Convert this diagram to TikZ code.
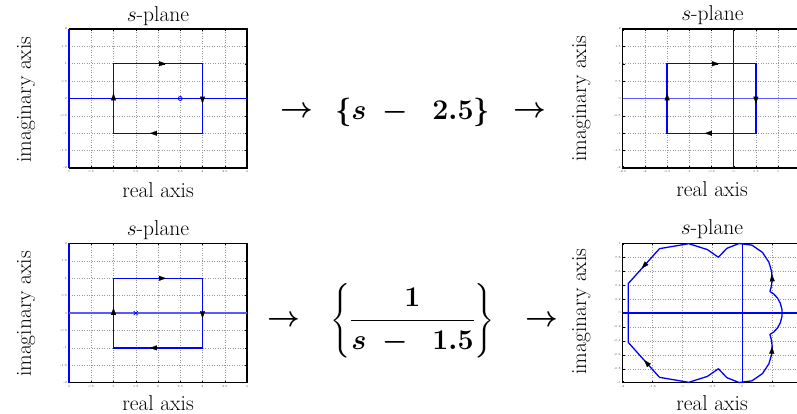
\RequirePackage{fix-cm}
\documentclass[tikz,border=0pt]{standalone}
\usepackage{amsmath}
\usetikzlibrary{arrows.meta}
\begin{document}
\begin{tikzpicture}[x=1pt,y=1pt,
 lbl/.style={font=\fontsize{21.5}{25}\selectfont, inner sep=0pt},
 mth/.style={font=\fontsize{28.5}{34}\selectfont\boldmath, inner sep=0pt},
 gridl/.style={black!40, dotted, line width=0.5pt},
 frm/.style={black, line width=1.3pt},
 bl/.style={draw=blue, line width=1.3pt},
 blax/.style={draw=blue!65, line width=1.8pt},
 tiptri/.style={-{Triangle[length=7pt,width=5pt]}, draw=black, fill=black, line width=0.2pt},
 tk/.style={font=\fontsize{3}{3}\selectfont, inner sep=0.6pt, text=black!75},
 tkm/.style={black, line width=0.4pt},
]
\useasboundingbox (0,0) rectangle (797,414);

% ---------- top-left plot ----------
\begin{scope}[shift={(69,315.5)}, x=44.5pt, y=34.75pt]
 \foreach \gx in {0.5,1.5,2,2.5,3.5} \draw[gridl] (\gx,-2) -- (\gx,2);
 \foreach \gy in {-1.5,-0.5,0.5,1.5} \draw[gridl] (0,\gy) -- (4,\gy);
 \draw[gridl] (1,-2) -- (1,-1) (1,1) -- (1,2) (3,-2) -- (3,-1) (3,1) -- (3,2);
 \draw[gridl] (0,-1) -- (1,-1) (3,-1) -- (4,-1) (0,1) -- (1,1) (3,1) -- (4,1);
 \foreach \gx/\lab [count=\i] in {0/0,0.5/0.5,1/1,1.5/1.5,2/2,2.5/2.5,3/3,3.5/3.5,4/4} {
   \node[tk, anchor=north] (ax\i) at (\gx,-2.05) {\lab};
   \draw[tkm] (\gx,-2) -- ++(0,2pt); \draw[tkm] (\gx,2) -- ++(0,-2pt);}
 \foreach \gy/\lab [count=\i] in {-2/-2,-1.5/-1.5,-1/-1,-0.5/-0.5,0/0,0.5/0.5,1/1,1.5/1.5,2/2} {
   \node[tk, anchor=east] (ay\i) at (-0.03,\gy) {\lab};
   \draw[tkm] (4,\gy) -- ++(-2pt,0);}
 \draw[frm] (0,2) -- (4,2) -- (4,-2) -- (0,-2);
 \draw[bl] (0,-2) -- (0,2);
 \draw[bl] (0,0) -- (4,0);
 \draw[bl] (1,-1) rectangle (3,1);
 \draw[bl, line width=0.8pt] (2.5,0) circle[radius=2pt];
 \draw[tiptri] (2.16,1) -- (2.18,1);
 \draw[tiptri] (3,-0.13) -- (3,-0.15);
 \draw[tiptri] (1.84,-1) -- (1.82,-1);
 \draw[tiptri] (1,0.13) -- (1,0.15);
\end{scope}
\node[lbl, anchor=base] (t1) at (158,392.5) {$s$-plane};
\node[lbl, anchor=base] (r1) at (158,216) {real axis};
\node[lbl, anchor=base, rotate=90] (i1) at (31,314.5) {imaginary axis};

% ---------- top-right plot ----------
\begin{scope}[shift={(733.7,315.5)}, x=44.4pt, y=34.75pt]
 \foreach \gx in {-2,-1,-0.5,1} \draw[gridl] (\gx,-2) -- (\gx,2);
 \foreach \gy in {-1.5,-0.5,0.5,1.5} \draw[gridl] (-2.5,\gy) -- (1.6,\gy);
 \draw[gridl] (-1.5,-2) -- (-1.5,-1) (-1.5,1) -- (-1.5,2) (0.5,-2) -- (0.5,-1) (0.5,1) -- (0.5,2);
 \draw[gridl] (-2.5,-1) -- (-1.5,-1) (0.5,-1) -- (1.6,-1) (-2.5,1) -- (-1.5,1) (0.5,1) -- (1.6,1);
 \foreach \gx/\lab [count=\i] in {-2.5/-2.5,-2/-2,-1.5/-1.5,-1/-1,-0.5/-0.5,0/0,0.5/0.5,1/1} {
   \node[tk, anchor=north] (bx\i) at (\gx,-2.05) {\lab};
   \draw[tkm] (\gx,-2) -- ++(0,2pt); \draw[tkm] (\gx,2) -- ++(0,-2pt);}
 \foreach \gy/\lab [count=\i] in {-2/-2,-1.5/-1.5,-1/-1,-0.5/-0.5,0/0,0.5/0.5,1/1,1.5/1.5,2/2} {
   \node[tk, anchor=east] (by\i) at (-2.53,\gy) {\lab};
   \draw[tkm] (-2.5,\gy) -- ++(2pt,0);}
 \draw[frm] (1.7,2) -- (-2.5,2) -- (-2.5,-2) -- (1.7,-2);
 \draw[blax] (-2.5,0) -- (1.7,0);
 \draw[bl] (0,-2) -- (0,2);
 \draw[bl] (-1.5,-1) rectangle (0.5,1);
 \draw[tiptri] (-0.35,1) -- (-0.33,1);
 \draw[tiptri] (0.5,-0.13) -- (0.5,-0.15);
 \draw[tiptri] (-0.63,-1) -- (-0.65,-1);
 \draw[tiptri] (-1.5,0.13) -- (-1.5,0.15);
\end{scope}
\node[lbl, anchor=base] (t2) at (712.5,393) {$s$-plane};
\node[lbl, anchor=base] (r2) at (712,217) {real axis};
\node[lbl, anchor=base, rotate=90] (i2) at (586,315.5) {imaginary axis};

% ---------- bottom-left plot ----------
\begin{scope}[shift={(69,100.9)}, x=44.5pt, y=34.8pt]
 \foreach \gx in {0.5,1.5,2,2.5,3.5} \draw[gridl] (\gx,-2) -- (\gx,2);
 \foreach \gy in {-1.5,-0.5,0.5,1.5} \draw[gridl] (0,\gy) -- (4,\gy);
 \draw[gridl] (1,-2) -- (1,-1) (1,1) -- (1,2) (3,-2) -- (3,-1) (3,1) -- (3,2);
 \draw[gridl] (0,-1) -- (1,-1) (3,-1) -- (4,-1) (0,1) -- (1,1) (3,1) -- (4,1);
 \foreach \gx/\lab [count=\i] in {0/0,0.5/0.5,1/1,1.5/1.5,2/2,2.5/2.5,3/3,3.5/3.5,4/4} {
   \node[tk, anchor=north] (cx\i) at (\gx,-2.05) {\lab};
   \draw[tkm] (\gx,-2) -- ++(0,2pt); \draw[tkm] (\gx,2) -- ++(0,-2pt);}
 \foreach \gy/\lab [count=\i] in {-2/-2,-1.5/-1.5,-1/-1,-0.5/-0.5,0/0,0.5/0.5,1/1,1.5/1.5,2/2} {
   \node[tk, anchor=east] (cy\i) at (-0.03,\gy) {\lab};
   \draw[tkm] (4,\gy) -- ++(-2pt,0);}
 \draw[frm] (0,2) -- (4,2) -- (4,-2) -- (0,-2);
 \draw[bl] (0,-2) -- (0,2);
 \draw[blax] (0,0) -- (4,0);
 \draw[bl] (1,-1) rectangle (3,1);
 \draw[bl, line width=0.8pt] (1.5,0) ++(-2pt,-2pt) -- ++(4pt,4pt) ++(-4pt,0) -- ++(4pt,-4pt);
 \draw[tiptri] (2.16,1) -- (2.18,1);
 \draw[tiptri] (3,-0.13) -- (3,-0.15);
 \draw[tiptri] (1.84,-1) -- (1.82,-1);
 \draw[tiptri] (1,0.13) -- (1,0.15);
\end{scope}
\node[lbl, anchor=base] (t3) at (158,178) {$s$-plane};
\node[lbl, anchor=base] (r3) at (158,3.5) {real axis};
\node[lbl, anchor=base, rotate=90] (i3) at (31,100) {imaginary axis};

% ---------- bottom-right plot ----------
\begin{scope}[shift={(742.3,101)}, x=59.8pt, y=69.7pt]
 \foreach \gx in {-1.5,-1,-0.5,0.5} \draw[gridl] (\gx,-1) -- (\gx,1);
 \foreach \gy in {-0.8,-0.6,-0.4,-0.2,0.2,0.4,0.6,0.8} \draw[gridl] (-2,\gy) -- (1,\gy);
 \foreach \gx/\lab [count=\i] in {-2/-2,-1.5/-1.5,-1/-1,-0.5/-0.5,0/0,0.5/0.5} {
   \node[tk, anchor=north] (dx\i) at (\gx,-1.025) {\lab};
   \draw[tkm] (\gx,-1) -- ++(0,2pt); \draw[tkm] (\gx,1) -- ++(0,-2pt);}
 \foreach \gy/\lab [count=\i] in {-1/-1,-0.8/-0.8,-0.6/-0.6,-0.4/-0.4,-0.2/-0.2,0/0,0.2/0.2,0.4/0.4,0.6/0.6,0.8/0.8,1/1} {
   \node[tk, anchor=east] (dy\i) at (-2.02,\gy) {\lab};
   \draw[tkm] (-2,\gy) -- ++(2pt,0);}
 \draw[frm] (1,1) -- (-2,1);
 \draw[frm] (-2,-1) -- (1,-1);
 \draw[black, line width=0.8pt] (-2,-1) -- (-2,1);
 \draw[bl] (-2,0) -- (1,0);
 \draw[bl] (0,-1) -- (0,1);
 \draw[bl, line join=round] (0.4615,-0.3077) -- (0.5254,-0.2724) -- (0.5863,-0.2171) -- (0.6353,-0.1412) -- (0.6630,-0.0491) -- (0.6630,0.0491) -- (0.6353,0.1412) -- (0.5863,0.2171) -- (0.5254,0.2724) -- (0.4615,0.3077)
  -- (0.4853,0.3798) -- (0.4993,0.4730) -- (0.4918,0.5902) -- (0.4450,0.7281) -- (0.3378,0.8686) -- (0.1622,0.9730) -- (-0.0554,0.9969) -- (-0.2579,0.9283) -- (-0.4,0.8)
  -- (-0.5849,0.9098) -- (-0.8951,0.9946) -- (-1.3846,0.9231) -- (-1.9059,0.4235) -- (-1.9059,-0.4235) -- (-1.3846,-0.9231) -- (-0.8951,-0.9946) -- (-0.5849,-0.9098) -- (-0.4,-0.8)
  -- (-0.2579,-0.9283) -- (-0.0554,-0.9969) -- (0.1622,-0.9730) -- (0.3378,-0.8686) -- (0.4450,-0.7281) -- (0.4918,-0.5902) -- (0.4993,-0.4730) -- (0.4853,-0.3798) -- cycle;
 \draw[tiptri] (0.4957,0.53) -- (0.494,0.555);
 \draw[tiptri] (0.497,-0.51) -- (0.4987,-0.483);
 \draw[tiptri] (-1.66,0.659) -- (-1.68,0.640);
 \draw[tiptri] (-1.62,-0.697) -- (-1.64,-0.678);
\end{scope}
\node[lbl, anchor=base] (t4) at (712,179) {$s$-plane};
\node[lbl, anchor=base] (r4) at (712,3.5) {real axis};
\node[lbl, anchor=base, rotate=90] (i4) at (586,102.5) {imaginary axis};

% ---------- transforms ----------
\node[mth] (a1) at (297,302) {$\rightarrow$};
\node[mth] (e1) at (412.5,302) {$\{s\ -\ \ 2.5\}$};
\node[mth] (a2) at (530,302) {$\rightarrow$};
\node[mth] (a3) at (284,93) {$\rightarrow$};
\node[mth] (e2) at (412.5,93) {$\left\{\dfrac{1}{s\ -\ \ 1.5}\right\}$};
\node[mth] (a4) at (542,93) {$\rightarrow$};
\end{tikzpicture}
\end{document}
